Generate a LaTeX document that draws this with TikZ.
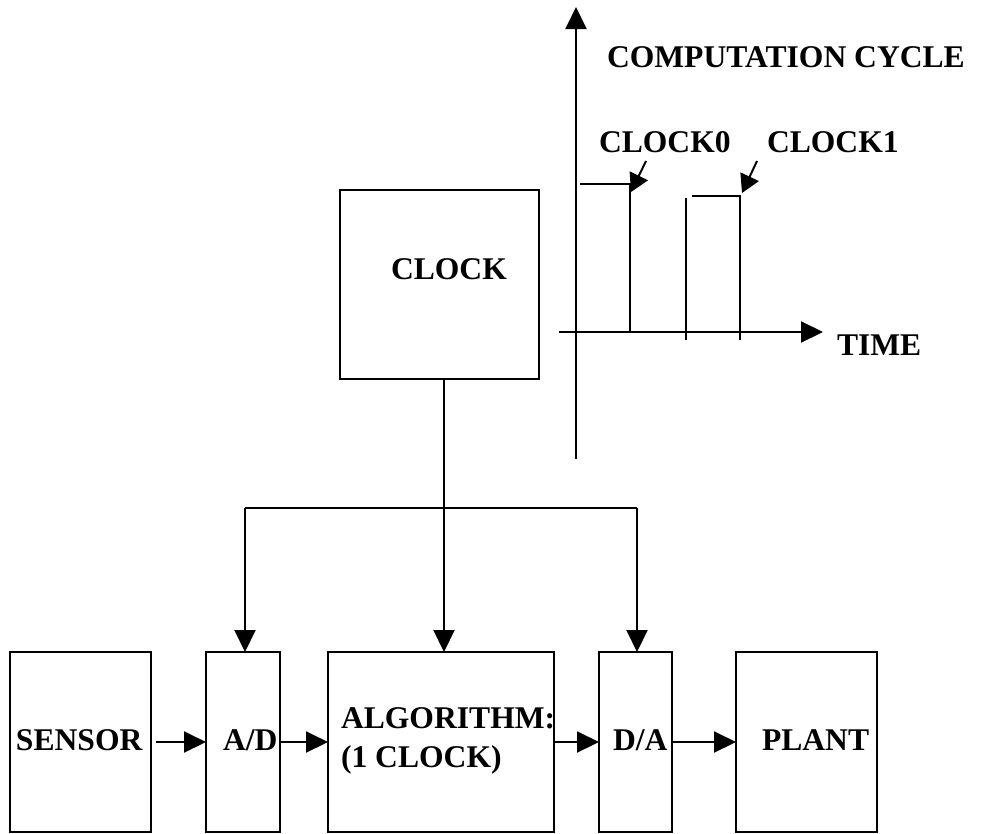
\documentclass[tikz,border=0pt]{standalone}
\usepackage{fontspec}
\setmainfont{Liberation Serif}
\usetikzlibrary{arrows.meta}
\tikzset{
  box/.style={draw, line width=2.6pt, inner sep=0pt, outer sep=0pt},
  lbl/.style={anchor=base west, inner sep=0pt, outer sep=0pt, font=\fontsize{31.6}{39}\selectfont\bfseries},
  conn/.style={line width=2pt},
  arr/.style={line width=2pt, -{Triangle[length=22pt,width=21pt]}},
  sarr/.style={line width=2pt, -{Triangle[length=18pt,width=20pt]}},
}
\begin{document}
\begin{tikzpicture}[x=1pt,y=-1pt]
\useasboundingbox (0,0) rectangle (981,833);
% boxes
\node[box, minimum width=199pt, minimum height=189pt] (clock) at (439.5,284.5) {};
\node[box, minimum width=141pt, minimum height=180pt] (sensor) at (80.5,742) {};
\node[box, minimum width=74pt, minimum height=180pt] (ad) at (243,742) {};
\node[box, minimum width=226pt, minimum height=180pt] (alg) at (441,742) {};
\node[box, minimum width=73pt, minimum height=180pt] (da) at (635.5,742) {};
\node[box, minimum width=141pt, minimum height=180pt] (plant) at (806.5,742) {};
% labels
\node[lbl] (tclock) at (391,279) {CLOCK};
\node[lbl] (tsensor) at (16,750) {SENSOR};
\node[lbl] (tad) at (223,750) {A/D};
\node[lbl] (talg1) at (341,728) {ALGORITHM:};
\node[lbl] (talg2) at (341,767) {(1 CLOCK)};
\node[lbl] (tda) at (613,750) {D/A};
\node[lbl] (tplant) at (762,750) {PLANT};
\node[lbl] (tcycle) at (607,67) {COMPUTATION CYCLE};
\node[lbl] (tc0) at (599,152) {CLOCK0};
\node[lbl] (tc1) at (767,152) {CLOCK1};
\node[lbl] (ttime) at (837,355) {TIME};
% clock distribution
\coordinate (busM) at (444,508);
\coordinate (busL) at (245,508);
\coordinate (busR) at (637,508);
\draw[arr] (clock.south -| busM) -- (alg.north -| busM);
\draw[conn] (busL) -- (busR);
\draw[arr] (busL) -- (ad.north -| busL);
\draw[arr] (busR) -- (da.north -| busR);
% signal chain
\draw[arr, shorten <=5pt] (sensor.east) -- (ad.west);
\draw[arr] (ad.east) -- (alg.west);
\draw[arr] (alg.east) -- (da.west);
\draw[arr] (da.east) -- (plant.west);
% time diagram
\coordinate (yb) at (576,459);
\coordinate (yt) at (576,7);
\coordinate (xl) at (559,332);
\coordinate (xr) at (823,332);
\draw[arr] (yb) -- (yt);
\draw[arr] (xl) -- (xr);
\coordinate (p0a) at (580,184);
\coordinate (p0b) at (630,184);
\coordinate (p0c) at (630,332);
\draw[conn] (p0a) -- (p0b) -- (p0c);
\coordinate (p1a) at (686,198);
\coordinate (p1b) at (686,340);
\draw[conn] (p1a) -- (p1b);
\coordinate (p2a) at (692,196);
\coordinate (p2b) at (740,196);
\coordinate (p2c) at (740,340);
\draw[conn] (p2a) -- (p2b) -- (p2c);
\coordinate (a0s) at (646,161);
\coordinate (a0e) at (631,192);
\coordinate (a1s) at (757,161);
\coordinate (a1e) at (742,193);
\draw[sarr] (a0s) -- (a0e);
\draw[sarr] (a1s) -- (a1e);
\end{tikzpicture}
\end{document}
